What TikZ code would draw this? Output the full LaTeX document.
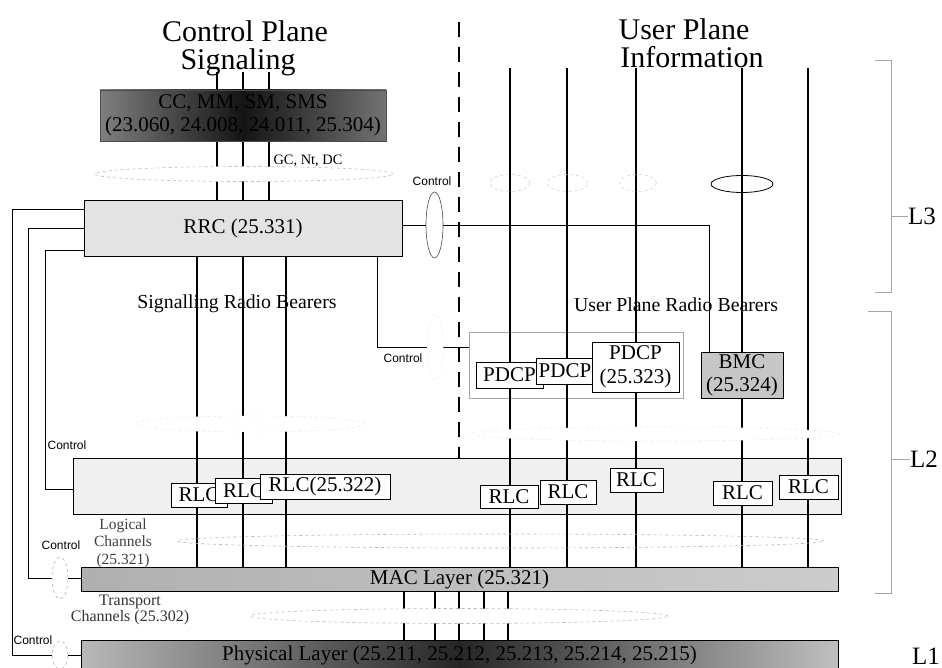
\documentclass[tikz,border=0pt]{standalone}
\usepackage{fontspec}
\setmainfont{Liberation Serif}
\newfontfamily\ctlfont{Liberation Sans}
\usetikzlibrary{shapes.geometric}
\pgfdeclarelayer{back}
\pgfdeclarelayer{lines}
\pgfdeclarelayer{ovals}
\pgfsetlayers{back,lines,ovals,main}
\newcommand\fsz[2]{\fontsize{#1}{#2}\selectfont}
\tikzset{
  box/.style={draw, line width=0.8pt, inner sep=0pt, outer sep=0pt, align=center, font=\fsz{21}{24}},
  wbox/.style={box, fill=white},
  bearer/.style={line width=2.3pt},
  ctl/.style={line width=0.7pt},
  trch/.style={line width=1.6pt},
  sepline/.style={line width=2.4pt, dash pattern=on 15pt off 10pt},
  oval/.style={ellipse, inner sep=0pt, outer sep=0pt},
  faint/.style={oval, draw=gray!13, dashed, line width=0.6pt, fill=white},
  ctltxt/.style={font=\ctlfont\fsz{12}{14}, inner sep=0pt},
  layertxt/.style={font=\fsz{25}{28}, inner sep=0pt},
  brk/.style={draw=gray!70, line width=0.7pt},
  title/.style={font=\fsz{30}{30}, inner sep=0pt, anchor=base},
}
\begin{document}
\begin{tikzpicture}[x=1pt,y=-1pt]
\useasboundingbox (0,0) rectangle (942,668);

% ---------- back layer ----------
\begin{pgfonlayer}{back}
  \fill[white] (0,0) rectangle (942,668);
  \node[font=\fsz{19.8}{22}, inner sep=0pt] (srb) at (237,304) {Signalling Radio Bearers};
  \node[font=\fsz{19.8}{22}, inner sep=0pt] (uprb) at (676,305) {User Plane Radio Bearers};
  \node[box, fill=gray!12, minimum width=768pt, minimum height=56pt] (l2) at (457,486) {};
  \node[box, draw=gray!70, fill=white, line width=0.7pt, minimum width=214pt, minimum height=66pt] (pdg) at (576,365) {};
\end{pgfonlayer}

% ---------- titles ----------
\node[title] (cpt1) at (245,42) {Control Plane};
\node[title] (cpt2) at (238,70) {Signaling};
\node[title] (upt1) at (684,40) {User Plane};
\node[title] (upt2) at (692,68) {Information};

% ---------- boxes ----------
\node[box, draw=black!70, left color=black!50, right color=black!55, middle color=black!92,
      minimum width=286pt, minimum height=51pt, font=\fsz{21}{23}] (cc) at (243,115.5)
      {CC, MM, SM, SMS\\(23.060, 24.008, 24.011, 25.304)};
\node[box, fill=gray!22, minimum width=318pt, minimum height=56pt] (rrc) at (243,228) {RRC (25.331)};

\node[wbox, minimum width=56pt, minimum height=24pt] (rlc1) at (199,495) {RLC};
\node[wbox, minimum width=57pt, minimum height=25pt] (rlc2) at (243.5,490.5) {RLC};
\node[wbox, minimum width=130pt, minimum height=25pt] (rlc3) at (325,486.5) {RLC(25.322)};
\node[wbox, minimum width=58pt, minimum height=23pt] (rlc4) at (509,496.5) {RLC};
\node[wbox, minimum width=56pt, minimum height=24pt] (rlc5) at (568,492) {RLC};
\node[wbox, minimum width=53pt, minimum height=24pt] (rlc6) at (636.5,480) {RLC};
\node[wbox, minimum width=59pt, minimum height=24pt] (rlc7) at (742.5,493) {RLC};
\node[wbox, minimum width=59pt, minimum height=24pt] (rlc8) at (808.5,487) {RLC};

\node[wbox, minimum width=67pt, minimum height=26pt] (pdcp1) at (509.5,375) {PDCP};
\node[wbox, minimum width=58pt, minimum height=26pt] (pdcp2) at (565,371) {PDCP};
\node[wbox, minimum width=87pt, minimum height=50pt, font=\fsz{21}{24}] (pdcp3) at (635.5,367) {PDCP\\(25.323)};
\node[box, fill=gray!45, minimum width=82pt, minimum height=46pt, font=\fsz{21}{23}] (bmc) at (742,375) {BMC\\(25.324)};

\node[box, left color=gray!62, right color=gray!40, minimum width=757pt, minimum height=24pt] (mac) at (459.5,579) {MAC Layer (25.321)};
\node[box, left color=gray!55, right color=gray!50, middle color=black!85, minimum width=757pt, minimum height=30pt] (phy) at (459.5,655)
      {Physical Layer (25.211, 25.212, 25.213, 25.214, 25.215)};

% ---------- ovals ----------
\begin{pgfonlayer}{ovals}
  \node[oval, draw=gray!50, dashed, line width=0.6pt, fill=white, minimum width=298pt, minimum height=15pt] (gce) at (244,174) {};
  \node[faint, minimum width=230pt, minimum height=16pt] (eL) at (250,424) {};
  \node[faint, minimum width=370pt, minimum height=14pt] (eR) at (655,434) {};
  \node[oval, draw=gray!55, dashed, line width=0.6pt, minimum width=647pt, minimum height=14pt] (logic) at (500.5,541) {};
  \node[oval, draw=gray!55, dashed, line width=0.6pt, fill=white, minimum width=418pt, minimum height=15pt] (trans) at (459,616) {};
  \node[oval, draw=gray!35, dashed, line width=0.6pt, minimum width=40pt, minimum height=17pt] (up1) at (510,183) {};
  \node[oval, draw=gray!35, dashed, line width=0.6pt, minimum width=41pt, minimum height=17pt] (up2) at (567.5,183) {};
  \node[oval, draw=gray!35, dashed, line width=0.6pt, minimum width=37pt, minimum height=17pt] (up3) at (638,183) {};
  \node[oval, draw=black, line width=0.8pt, minimum width=62pt, minimum height=17pt] (up4) at (742,184) {};
  \node[oval, draw=black!70, line width=0.6pt, fill=white, minimum width=17pt, minimum height=66pt] (erc) at (434.5,225) {};
  \node[faint, minimum width=16pt, minimum height=66pt] (epd) at (435,347) {};
  \node[oval, draw=gray!60, dashed, line width=0.6pt, fill=white, minimum width=16pt, minimum height=42pt] (emac) at (60,578) {};
  \node[oval, draw=gray!60, dashed, line width=0.6pt, fill=white, minimum width=16pt, minimum height=28pt] (ephy) at (60,655) {};
\end{pgfonlayer}

% ---------- lines ----------
\begin{pgfonlayer}{lines}
  \foreach \x [count=\i] in {217,243,269} {
    \coordinate (sg\i) at (\x,72);
    \draw[bearer] (sg\i) -- (sg\i |- rrc.north);
  }
  \foreach \x [count=\i] in {197,243,286} {
    \coordinate (sr\i) at (\x,300);
    \draw[bearer] (sr\i |- rrc.south) -- (sr\i |- mac.north);
  }
  \foreach \x [count=\i] in {510,567,636,742,808} {
    \coordinate (up\i t) at (\x,68);
    \draw[bearer] (up\i t) -- (up\i t |- mac.north);
  }
  \foreach \x [count=\i] in {404,435,459,484,508} {
    \coordinate (tc\i) at (\x,600);
    \draw[trch] (tc\i |- mac.south) -- (tc\i |- phy.north);
  }
  % separator
  \coordinate (sepT) at (459,22);
  \draw[sepline] (sepT) -- (sepT |- l2.north);
  % control connections
  \coordinate (k1) at (12,209);
  \draw[ctl] (k1 -| rrc.west) -- (k1) -- (k1 |- ephy.west) -- (ephy.west);
  \draw[ctl] (ephy.east) -- (ephy.east -| phy.west);
  \coordinate (k2) at (28,228);
  \draw[ctl] (k2 -| rrc.west) -- (k2) -- (k2 |- emac.west) -- (emac.west);
  \draw[ctl] (emac.east) -- (emac.east -| mac.west);
  \coordinate (k3) at (45,250);
  \coordinate (k3b) at (45,489);
  \draw[ctl] (k3 -| rrc.west) -- (k3) -- (k3b) -- (k3b -| l2.west);
  \coordinate (k4) at (709,225);
  \draw[ctl] (erc.west -| rrc.east) -- (erc.west);
  \draw[ctl] (erc.east) -- (k4) -- (k4 |- bmc.north);
  \coordinate (k5) at (377,347);
  \draw[ctl] (k5 |- rrc.south) -- (k5) -- (epd.west);
  \draw[ctl] (epd.east) -- (epd.east -| pdg.west);
\end{pgfonlayer}

% ---------- labels ----------
\node[font=\fsz{14.4}{16}, inner sep=0pt] (gclbl) at (308,161) {GC, Nt, DC};
\node[ctltxt] (c1) at (432,181) {Control};
\node[ctltxt] (c2) at (403,358) {Control};
\node[ctltxt] (c3) at (67,445) {Control};
\node[ctltxt] (c4) at (61,545) {Control};
\node[ctltxt] (c5) at (33,640) {Control};
\node[font=\fsz{15.5}{17.5}, text=black!75, align=center, inner sep=0pt] (lcl) at (123,543) {Logical\\Channels\\(25.321)};
\node[font=\fsz{16}{16.5}, text=black!80, align=center, inner sep=0pt] (tcl) at (130,610) {Transport\\Channels (25.302)};

% ---------- layer brackets ----------
\coordinate (b3a) at (875,60);
\coordinate (b3b) at (891,60);
\coordinate (b3c) at (891,292);
\coordinate (b3d) at (875,292);
\coordinate (b3t) at (891,216);
\draw[brk] (b3a) -- (b3b) -- (b3c) -- (b3d);
\node[layertxt, anchor=west] (L3) at (908,216) {L3};
\draw[brk] (b3t) -- (L3.west);
\coordinate (b2a) at (868,311);
\coordinate (b2b) at (891,311);
\coordinate (b2c) at (891,593);
\coordinate (b2d) at (875,593);
\coordinate (b2t) at (891,459);
\draw[brk] (b2a) -- (b2b) -- (b2c) -- (b2d);
\node[layertxt, anchor=west] (L2) at (910,459) {L2};
\draw[brk] (b2t) -- (L2.west);
\node[layertxt, anchor=west] (L1) at (912,656) {L1};
\end{tikzpicture}
\end{document}
